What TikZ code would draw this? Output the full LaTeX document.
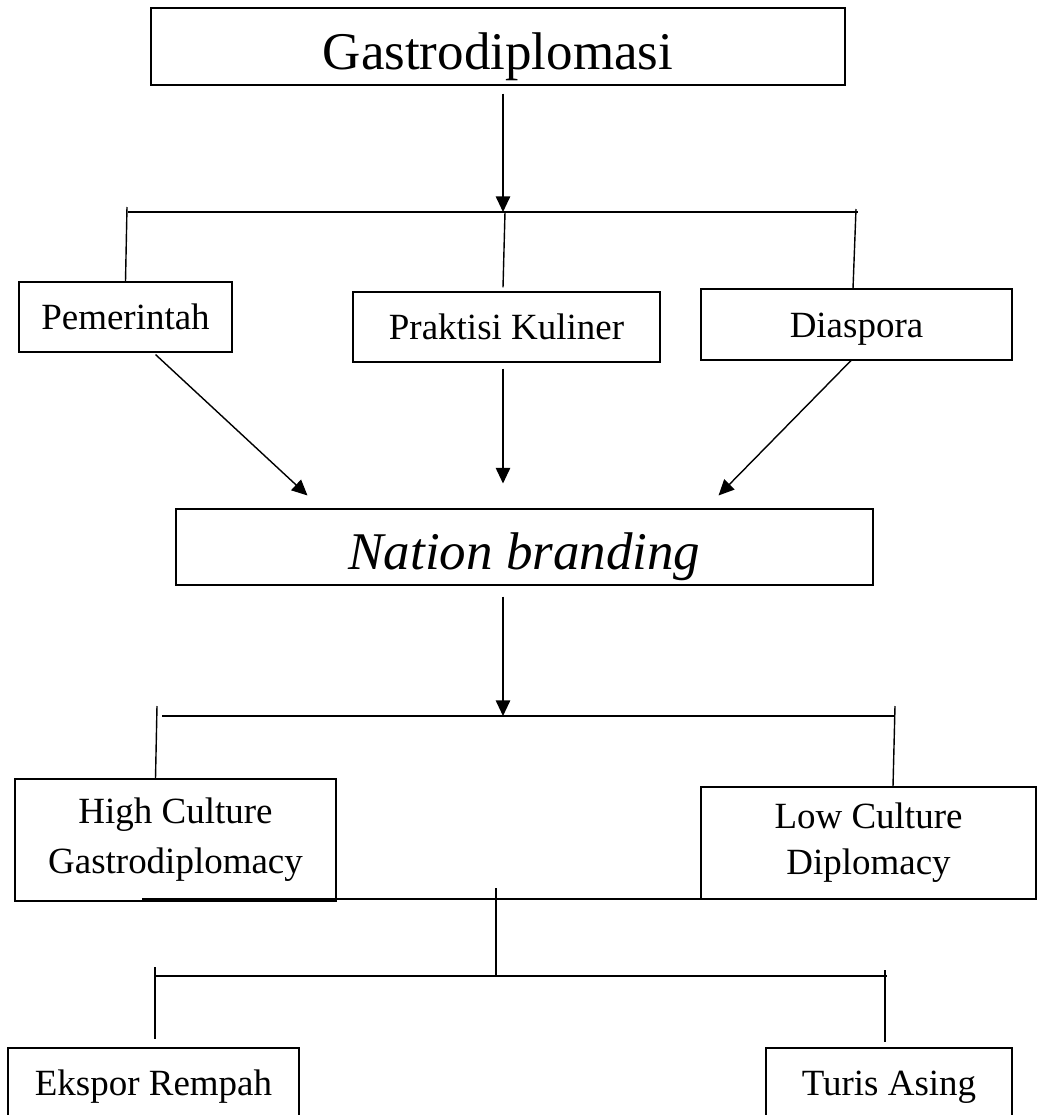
\documentclass[tikz,border=0pt]{standalone}
\usepackage{fontspec}
\setmainfont{Liberation Serif}
\usetikzlibrary{arrows.meta,calc}

\tikzset{
	kotak/.style={draw,line width=0.75pt,inner sep=0pt,align=center,font=\fontsize{26.3}{34}\selectfont},
	satu/.style={text height=6.25mm,text depth=0pt},
	garis/.style={line width=1pt},
	palang/.style={line width=1.9pt},
	panah/.style={line width=1pt,-{Triangle[length=3.9mm,width=3.6mm]}},
}

\begin{document}
\begin{tikzpicture}[x=0.25mm,y=-0.25mm]
		\useasboundingbox (0,0) rectangle (1036,1115);
		\node[kotak,minimum width=173.5mm,minimum height=19.25mm,text height=11.75mm,text depth=0pt,font=\fontsize{37.7}{45}\selectfont] (gastro) at (498,46.5) {Gastrodiplomasi};
		\node[kotak,satu,minimum width=53.25mm,minimum height=17.5mm] (pem) at (125.5,317) {Pemerintah};
		\node[kotak,satu,minimum width=76.75mm,minimum height=17.5mm] (prak) at (506.5,327) {Praktisi Kuliner};
		\node[kotak,satu,minimum width=77.75mm,minimum height=17.75mm] (dias) at (856.5,324.5) {Diaspora};
		\node[kotak,minimum width=174.25mm,minimum height=19mm,text height=11mm,text depth=0pt,font=\fontsize{37.7}{45}\selectfont\itshape] (nat) at (524.5,547) {Nation branding};
		\node[kotak,minimum width=80.25mm,minimum height=30.5mm,font=\fontsize{26.3}{35.6}\selectfont] (high) at (175.5,840) {High Culture\\Gastrodiplomacy};
		\node[kotak,minimum width=83.75mm,minimum height=28mm,font=\fontsize{26.3}{32.7}\selectfont] (low) at (868.5,843) {Low Culture\\Diplomacy};
		\node[kotak,satu,minimum width=72.75mm,minimum height=17.5mm] (eks) at (153.5,1083) {Ekspor Rempah};
		\node[kotak,satu,minimum width=61.5mm,minimum height=17.5mm] (turis) at (889,1083) {Turis Asing};

		\coordinate (j1) at (503,212);
		\coordinate (b1l) at (128,212);
		\coordinate (b1r) at (858,212);
		\draw[panah] ($(gastro.south)+(5,8)$) -- (j1);
		\draw[palang] (b1l) -- (b1r);
		\draw[garis] ($(b1l)+(-1,-5)$) -- (pem.north);
		\draw[garis] ($(j1)+(2,0)$) -- ($(prak.north)+(-3.5,-4)$);
		\draw[garis] ($(b1r)+(-2,-3)$) -- ($(dias.north)+(-3.5,0)$);

		\draw[panah] ($(pem.south)+(30,2)$) -- ($(nat.north west)+(132,-13)$);
		\draw[panah] ($(prak.south)+(-3.5,6)$) -- ($(nat.north)+(-21.5,-25)$);
		\draw[panah] ($(dias.south)+(-5.5,0)$) -- ($(nat.north east)+(-155,-13)$);

		\coordinate (j2) at (503,716);
		\coordinate (b2l) at (162,716);
		\coordinate (b2r) at (895,716);
		\draw[panah] ($(nat.south)+(-21.5,11)$) -- (j2);
		\draw[palang] (b2l) -- (b2r);
		\draw[garis] ($(b2l)+(-5,-10)$) -- ($(high.north)+(-20,0)$);
		\draw[garis] ($(b2r)+(0,-10)$) -- ($(low.north)+(24.5,0)$);

		\coordinate (j3) at (496,899);
		\coordinate (b3l) at (142,899);
		\coordinate (b3r) at (873,899);
		\coordinate (j4) at (496,976);
		\coordinate (b4l) at (155,976);
		\coordinate (b4r) at (887,976);
		\draw[palang] (b3l) -- (b3r);
		\draw[garis] ($(j3)+(0,-11)$) -- (j4);
		\draw[palang] (b4l) -- (b4r);
		\draw[garis] ($(b4l)+(0,-9)$) -- ($(eks.north)+(1.5,-8)$);
		\draw[garis] ($(b4r)+(-2,-6)$) -- ($(turis.north)+(-4,-5)$);
	\end{tikzpicture}
\end{document}
